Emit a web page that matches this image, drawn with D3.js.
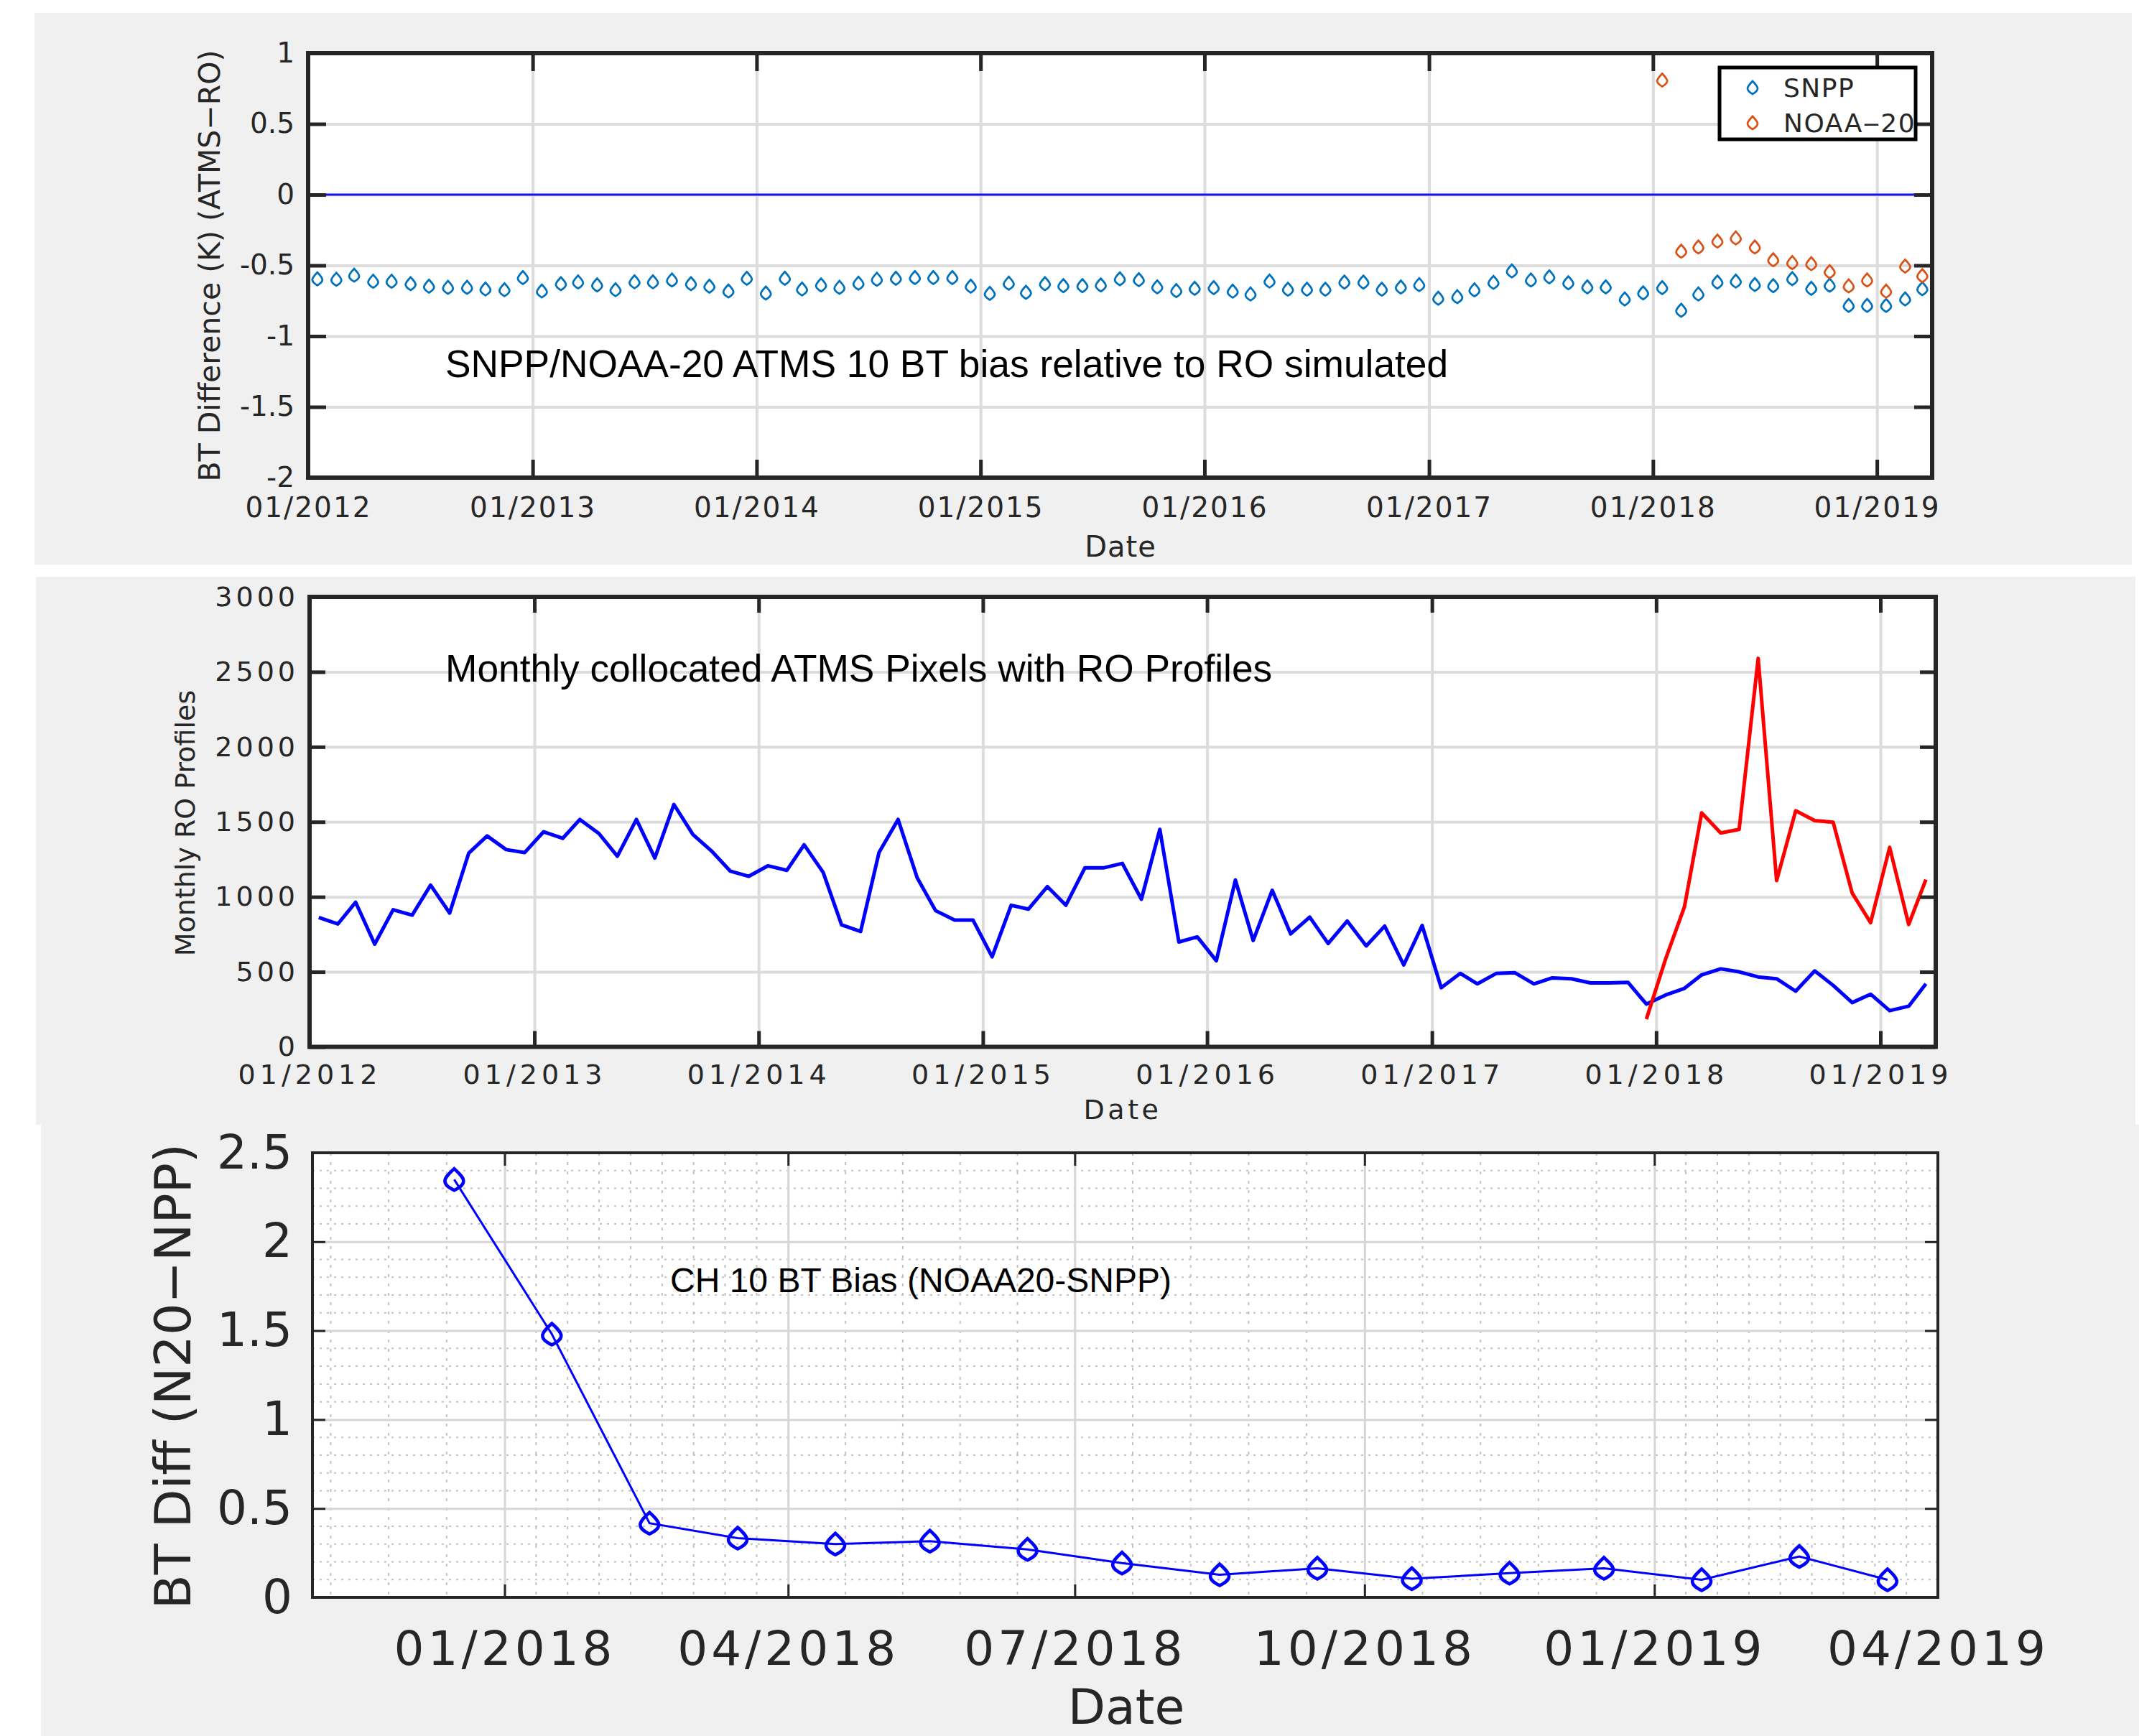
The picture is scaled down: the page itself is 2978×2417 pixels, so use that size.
<!DOCTYPE html>
<html>
<head>
<meta charset="utf-8">
<script src="https://cdn.jsdelivr.net/npm/d3@7.9.0/dist/d3.min.js"></script>
<style>
  body { margin: 0; background: #fff; }
  svg { display: block; }
  .tick text { font-family: "DejaVu Sans", sans-serif; fill: #262626; }
  .lab { font-family: "DejaVu Sans", sans-serif; fill: #262626; }
  .note { font-family: "Liberation Sans", Arial, sans-serif; fill: #000; }
</style>
</head>
<body>
<svg id="chart" width="2978" height="2417"></svg>
<script>
// ---------- data ----------
// panel 1: monthly BT bias vs RO simulated (K)
const snppBiasStart = "2012-01";
const snppBias = [
  -0.595, -0.598, -0.569, -0.612, -0.612, -0.629, -0.647, -0.655, -0.655, -0.667, -0.672, -0.586,
  -0.681, -0.629, -0.617, -0.638, -0.672, -0.616, -0.616, -0.603, -0.629, -0.647, -0.681, -0.591,
  -0.695, -0.591, -0.667, -0.638, -0.655, -0.626, -0.598, -0.591, -0.586, -0.586, -0.586, -0.647,
  -0.698, -0.626, -0.690, -0.629, -0.643, -0.643, -0.638, -0.595, -0.601, -0.652, -0.678, -0.662,
  -0.657, -0.682, -0.702, -0.611, -0.668, -0.668, -0.668, -0.618, -0.618, -0.668, -0.653, -0.636,
  -0.732, -0.721, -0.673, -0.620, -0.539, -0.603, -0.581, -0.623, -0.652, -0.652, -0.737, -0.694,
  -0.657, -0.817, -0.702, -0.618, -0.611, -0.635, -0.643, -0.594, -0.662, -0.640, -0.783, -0.783,
  -0.783, -0.737, -0.665
];
const noaaBiasStart = "2018-01";
const noaaBias = [0.81, -0.399, -0.370, -0.328, -0.306, -0.370, -0.460, -0.480, -0.488, -0.544,
  -0.645, -0.603, -0.682, -0.505, -0.572];

// panel 2: monthly collocated counts
const snppCountStart = "2012-01";
const snppCount = [
  862, 819, 964, 685, 914, 878, 1078, 892, 1291, 1406, 1315, 1295,
  1434, 1390, 1516, 1422, 1271, 1516, 1259, 1616, 1416, 1307, 1171, 1137,
  1207, 1177, 1347, 1163, 813, 769, 1297, 1516, 1128, 908, 845, 845,
  600, 944, 918, 1068, 944, 1193, 1193, 1223, 984, 1450, 699, 733,
  574, 1112, 709, 1044, 753, 865, 689, 839, 673, 805, 546, 809,
  394, 490, 420, 490, 494, 420, 460, 454, 426, 426, 430, 285,
  345, 390, 480, 520, 500, 466, 454, 371, 506, 410, 295, 351,
  241, 271, 420
];
const noaaCountStart = "2017-12";
const noaaCount = [185, 582, 934, 1560, 1426, 1450, 2590, 1108, 1574, 1508, 1498, 1025, 828, 1330, 816, 1115];

// panel 3: NOAA20 - SNPP channel 10 bias
const diffStart = "2017-12";
const n20MinusNpp = [2.35, 1.48, 0.417, 0.333, 0.30, 0.316, 0.27, 0.193, 0.127, 0.164, 0.105, 0.136,
  0.164, 0.099, 0.23, 0.099];

const yTicks1 = [-2, -1.5, -1, -0.5, 0, 0.5, 1];
const yTicks2 = [0, 500, 1000, 1500, 2000, 2500, 3000];
const yTicks3 = [0, 0.5, 1, 1.5, 2, 2.5];

// ---------- helpers ----------
const parseMonth = d3.timeParse("%Y-%m");
const fmtDate = d3.timeFormat("%m/%Y");
const fmtNum = d3.formatLocale({decimal: ".", thousands: ",", grouping: [3], currency: ["", ""], minus: "-"}).format("~g");

// mid-month dates for a series starting at `start`
function monthly(start, n) {
  const t0 = parseMonth(start);
  return d3.range(n).map(i => d3.timeDay.offset(d3.timeMonth.offset(t0, i), 15));
}

// rounded diamond like the matlab marker in the picture
function marker(w, h) {
  return `M0,${-h} C${w * 0.55},${-h * 0.55} ${w},${-h * 0.2} ${w},${h * 0.15} ` +
    `C${w},${h * 0.55} ${w * 0.45},${h * 0.8} 0,${h} ` +
    `C${-w * 0.45},${h * 0.8} ${-w},${h * 0.55} ${-w},${h * 0.15} ` +
    `C${-w},${-h * 0.2} ${-w * 0.55},${-h * 0.55} 0,${-h} Z`;
}

function drawGrid(g, x, y, o) {
  const [x0, x1] = x.range(), [y0, y1] = y.range();
  g.append("rect").attr("x", x0).attr("y", y1).attr("width", x1 - x0).attr("height", y0 - y1).attr("fill", "#fff");
  g.append("g").attr("transform", `translate(0,${y0})`)
    .call(d3.axisBottom(x).tickValues(o.xTicks).tickSize(-(y0 - y1)).tickFormat(""))
    .call(s => s.select(".domain").remove())
    .selectAll("line").attr("stroke", o.gridColor).attr("stroke-width", o.gridW);
  g.append("g").attr("transform", `translate(${x0},0)`)
    .call(d3.axisLeft(y).tickValues(o.yTicks).tickSize(-(x1 - x0)).tickFormat(""))
    .call(s => s.select(".domain").remove())
    .selectAll("line").attr("stroke", o.gridColor).attr("stroke-width", o.gridW);
}

function drawAxes(g, x, y, o) {
  const [x0, x1] = x.range(), [y0, y1] = y.range();
  const styleLines = s => {
    s.select(".domain").remove();
    s.selectAll("line").attr("stroke", "#262626").attr("stroke-width", o.tickW);
  };
  g.append("g").attr("transform", `translate(0,${y0})`)
    .call(d3.axisBottom(x).tickValues(o.xTicks).tickFormat(fmtDate).tickSizeInner(-o.tickLen).tickSizeOuter(0).tickPadding(o.xPad))
    .call(styleLines)
    .selectAll("text").attr("font-size", o.xFs).attr("letter-spacing", o.xLs);
  g.append("g").attr("transform", `translate(0,${y1})`)
    .call(d3.axisTop(x).tickValues(o.xTicks).tickFormat("").tickSizeInner(-o.tickLen).tickSizeOuter(0))
    .call(styleLines);
  g.append("g").attr("transform", `translate(${x0},0)`)
    .call(d3.axisLeft(y).tickValues(o.yTicks).tickFormat(o.yFmt).tickSizeInner(-o.tickLen).tickSizeOuter(0).tickPadding(o.yPad))
    .call(styleLines)
    .selectAll("text").attr("font-size", o.yFs).attr("letter-spacing", o.yLs);
  g.append("g").attr("transform", `translate(${x1},0)`)
    .call(d3.axisRight(y).tickValues(o.yTicks).tickFormat("").tickSizeInner(-o.tickLen).tickSizeOuter(0))
    .call(styleLines);
  g.append("rect").attr("x", x0).attr("y", y1).attr("width", x1 - x0).attr("height", y0 - y1)
    .attr("fill", "none").attr("stroke", "#262626").attr("stroke-width", o.boxW);
}

function yLabel(g, text, cx, cy, fs) {
  g.append("text").attr("class", "lab")
    .attr("transform", `translate(${cx},${cy}) rotate(-90)`)
    .attr("text-anchor", "middle").attr("dominant-baseline", "central")
    .attr("font-size", fs).text(text);
}

function xLabel(g, text, cx, by, fs, ls) {
  g.append("text").attr("class", "lab").attr("x", cx).attr("y", by)
    .attr("text-anchor", "middle").attr("font-size", fs).attr("letter-spacing", ls).text(text);
}

const svg = d3.select("#chart");
const longStart = new Date(2012, 0, 1), longEnd = new Date(2019, 3, 1);
const yearTicks = d3.timeYear.range(new Date(2012, 0, 1), new Date(2019, 1, 1));

// ---------- panel 1: BT bias ----------
{
  const g = svg.append("g");
  g.append("rect").attr("x", 48).attr("y", 18).attr("width", 2920).attr("height", 768).attr("fill", "#f0f0f0");
  const x = d3.scaleTime().domain([longStart, longEnd]).range([429, 2690]);
  const y = d3.scaleLinear().domain([-2, 1]).range([665, 74]);
  drawGrid(g, x, y, {xTicks: yearTicks, yTicks: yTicks1, gridColor: "#dcdcdc", gridW: 4});

  g.append("path")
    .attr("d", d3.line().x(d => x(d)).y(() => y(0))([longStart, longEnd]))
    .attr("stroke", "#1212f0").attr("stroke-width", 3);

  const snpp = monthly(snppBiasStart, snppBias.length).map((t, i) => ({t, v: snppBias[i]}));
  const noaa = monthly(noaaBiasStart, noaaBias.length).map((t, i) => ({t, v: noaaBias[i]}));
  const mk = marker(7, 9);
  g.append("g").selectAll("path").data(snpp).join("path")
    .attr("d", mk).attr("transform", d => `translate(${x(d.t)},${y(d.v)})`)
    .attr("fill", "none").attr("stroke", "#0072bd").attr("stroke-width", 2.8);
  g.append("g").selectAll("path").data(noaa).join("path")
    .attr("d", mk).attr("transform", d => `translate(${x(d.t)},${y(d.v)})`)
    .attr("fill", "none").attr("stroke", "#d95319").attr("stroke-width", 2.8);

  g.append("text").attr("class", "note").attr("x", 620).attr("y", 525).attr("font-size", 53.3)
    .text("SNPP/NOAA-20 ATMS 10 BT bias relative to RO simulated");

  drawAxes(g, x, y, {xTicks: yearTicks, yTicks: yTicks1, yFmt: fmtNum, tickLen: 25, tickW: 5, boxW: 6,
    xPad: 27, xFs: 39, xLs: 2, yPad: 19, yFs: 39, yLs: 0});

  // legend
  const lg = g.append("g");
  lg.append("rect").attr("x", 2394).attr("y", 94).attr("width", 273).attr("height", 100)
    .attr("fill", "#fff").attr("stroke", "#000").attr("stroke-width", 5);
  [["SNPP", "#0072bd", 122], ["NOAA\u201220", "#d95319", 171]].forEach(([name, col, ly]) => {
    lg.append("path").attr("d", mk).attr("transform", `translate(2440,${ly})`)
      .attr("fill", "none").attr("stroke", col).attr("stroke-width", 2.8);
    lg.append("text").attr("class", "lab").attr("x", 2483).attr("y", ly)
      .attr("dominant-baseline", "central").attr("font-size", 36).attr("letter-spacing", 1.5)
      .attr("fill", "#000").text(name);
  });

  yLabel(g, "BT Difference (K) (ATMS\u2212RO)", 292, 370, 41);
  xLabel(g, "Date", 1560, 775, 40, 1);
}

// ---------- panel 2: monthly counts ----------
{
  const g = svg.append("g");
  g.append("rect").attr("x", 50).attr("y", 803).attr("width", 2923).attr("height", 763).attr("fill", "#f0f0f0");
  const x = d3.scaleTime().domain([longStart, longEnd]).range([431, 2695]);
  const y = d3.scaleLinear().domain([0, 3000]).range([1457.5, 831]);
  drawGrid(g, x, y, {xTicks: yearTicks, yTicks: yTicks2, gridColor: "#dcdcdc", gridW: 4});

  const line = d3.line().x(d => x(d.t)).y(d => y(d.v));
  const snpp = monthly(snppCountStart, snppCount.length).map((t, i) => ({t, v: snppCount[i]}));
  const noaa = monthly(noaaCountStart, noaaCount.length).map((t, i) => ({t, v: noaaCount[i]}));
  g.append("path").attr("d", line(snpp)).attr("fill", "none").attr("stroke", "#0000ff")
    .attr("stroke-width", 5).attr("stroke-linejoin", "round");
  g.append("path").attr("d", line(noaa)).attr("fill", "none").attr("stroke", "#ff0000")
    .attr("stroke-width", 5).attr("stroke-linejoin", "round");

  g.append("text").attr("class", "note").attr("x", 620).attr("y", 949).attr("font-size", 53.3)
    .text("Monthly collocated ATMS Pixels with RO Profiles");

  drawAxes(g, x, y, {xTicks: yearTicks, yTicks: yTicks2, yFmt: d3.format("d"), tickLen: 22, tickW: 5, boxW: 6,
    xPad: 25, xFs: 38, xLs: 6, yPad: 15, yFs: 38, yLs: 5});

  yLabel(g, "Monthly RO Profiles", 258, 1146, 38);
  xLabel(g, "Date", 1563, 1558, 38, 4.5);
}

// ---------- panel 3: NOAA20 - SNPP ----------
{
  const g = svg.append("g");
  g.append("rect").attr("x", 57).attr("y", 1566).attr("width", 2921).attr("height", 851).attr("fill", "#f0f0f0");
  const d0 = new Date(2017, 10, 1), d1 = new Date(2019, 3, 1);
  const x = d3.scaleTime().domain([d0, d1]).range([435, 2698]);
  const y = d3.scaleLinear().domain([0, 2.5]).range([2224, 1605]);
  const qTicks = d3.timeMonth.every(3).range(new Date(2018, 0, 1), new Date(2019, 3, 2));

  const [x0, x1] = x.range(), [yb, yt] = y.range();
  g.append("rect").attr("x", x0).attr("y", yt).attr("width", x1 - x0).attr("height", yb - yt).attr("fill", "#fff");

  // minor dotted grid
  const minorX = [];
  d3.timeMonth.every(3).range(new Date(2017, 9, 1), d1).forEach(a => {
    const b = d3.timeMonth.offset(a, 3), n = a.getMonth() === 0 ? 9 : 5;
    for (let k = 1; k < n; k++) {
      const t = new Date(+a + k * (b - a) / n);
      if (t > d0 && t < d1) minorX.push(t);
    }
  });
  const minorY = d3.range(1, 25).map(i => i / 10).filter(v => Math.abs(v * 2 - Math.round(v * 2)) > 1e-6);
  g.append("g").selectAll("line").data(minorX).join("line")
    .attr("x1", d => x(d)).attr("x2", d => x(d)).attr("y1", yt).attr("y2", yb)
    .attr("stroke", "#c2c2c2").attr("stroke-width", 2).attr("stroke-dasharray", "4,9");
  g.append("g").selectAll("line").data(minorY).join("line")
    .attr("x1", x0).attr("x2", x1).attr("y1", d => y(d)).attr("y2", d => y(d))
    .attr("stroke", "#c2c2c2").attr("stroke-width", 2).attr("stroke-dasharray", "3,7");

  g.append("g").attr("transform", `translate(0,${yb})`)
    .call(d3.axisBottom(x).tickValues(qTicks).tickSize(-(yb - yt)).tickFormat(""))
    .call(s => s.select(".domain").remove())
    .selectAll("line").attr("stroke", "#d6d6d6").attr("stroke-width", 3);
  g.append("g").attr("transform", `translate(${x0},0)`)
    .call(d3.axisLeft(y).tickValues(yTicks3).tickSize(-(x1 - x0)).tickFormat(""))
    .call(s => s.select(".domain").remove())
    .selectAll("line").attr("stroke", "#d6d6d6").attr("stroke-width", 3);

  const pts = monthly(diffStart, n20MinusNpp.length).map((t, i) => ({t, v: n20MinusNpp[i]}));
  g.append("path").attr("d", d3.line().x(d => x(d.t)).y(d => y(d.v))(pts))
    .attr("fill", "none").attr("stroke", "#0000ff").attr("stroke-width", 3);
  g.append("g").selectAll("path").data(pts).join("path")
    .attr("d", marker(13, 15)).attr("transform", d => `translate(${x(d.t)},${y(d.v)})`)
    .attr("fill", "none").attr("stroke", "#0000ff").attr("stroke-width", 4.5);

  g.append("text").attr("class", "note").attr("x", 933).attr("y", 1799).attr("font-size", 48)
    .text("CH 10 BT Bias (NOAA20-SNPP)");

  drawAxes(g, x, y, {xTicks: qTicks, yTicks: yTicks3, yFmt: fmtNum, tickLen: 18, tickW: 3, boxW: 4,
    xPad: 47, xFs: 66, xLs: 5, yPad: 28, yFs: 66, yLs: 0});

  yLabel(g, "BT Diff (N20\u2212NPP)", 241, 1916, 70);
  xLabel(g, "Date", 1568, 2400, 68, 0);
}
</script>
</body>
</html>
